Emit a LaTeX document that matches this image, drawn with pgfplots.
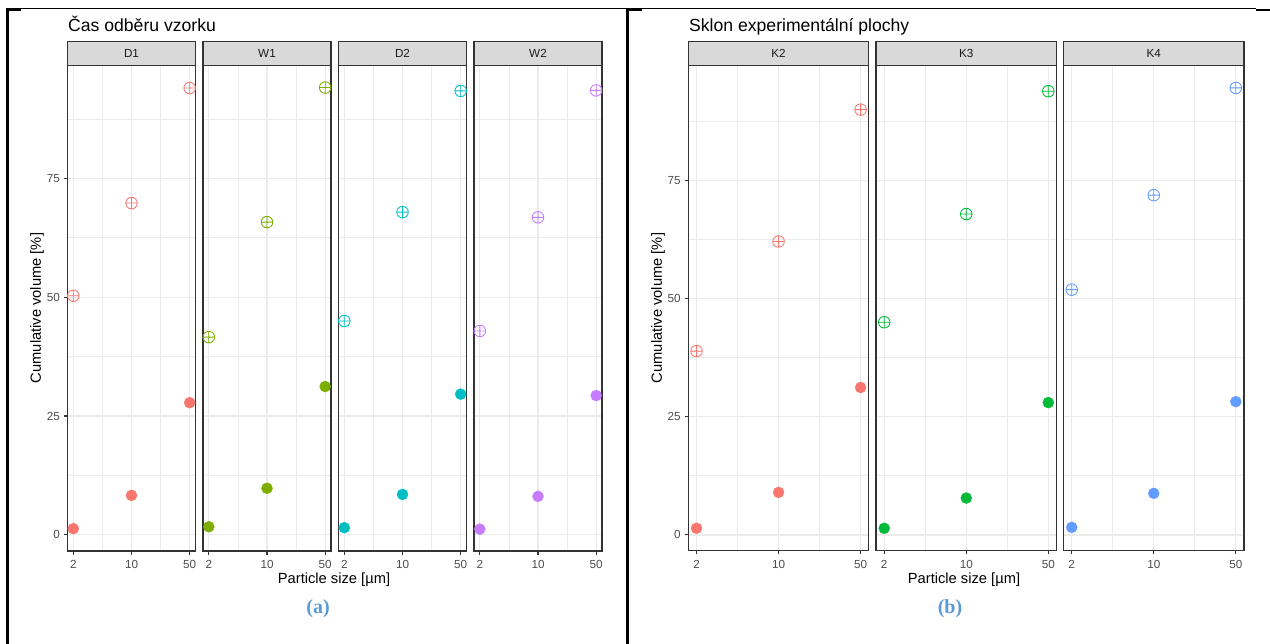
\documentclass[border=0pt]{standalone}
\usepackage{pgfplots}
\pgfplotsset{compat=1.18}
\usepackage{fontspec}
\setmainfont{Liberation Sans}
\newfontfamily\sansfnt{Liberation Sans}
\newfontfamily\capfont{Liberation Serif}
\newcommand\tickfont{\sansfnt\fontsize{11.7}{14}\selectfont}

% ggplot2 theme_bw greys
\definecolor{grey92}{HTML}{EBEBEB}
\definecolor{grey85}{HTML}{D9D9D9}
\definecolor{grey30}{HTML}{4D4D4D}
\definecolor{grey20}{HTML}{333333}
\definecolor{grey10}{HTML}{1A1A1A}
\definecolor{capblue}{HTML}{5B9BD5}
% hue palettes (4 and 3 levels)
\definecolor{hA}{HTML}{F8766D}
\definecolor{hB}{HTML}{7CAE00}
\definecolor{hC}{HTML}{00BFC4}
\definecolor{hD}{HTML}{C77CFF}
\definecolor{kB}{HTML}{00BA38}
\definecolor{kC}{HTML}{619CFF}

\pgfplotsset{
  panelbase/.style={
    scale only axis,
    xmin=1.7025, xmax=58.73,
    xtick={2,10,50}, xticklabels={2,10,50},
    minor xtick={4.4721,22.3607},
    ytick={0,25,50,75},
    minor ytick={12.5,37.5,62.5,87.5},
    grid=both,
    major grid style={grey92, line width=1.3pt},
    minor grid style={grey92, line width=0.8pt},
    axis line style={grey20, line width=1.1pt},
    tick align=outside,
    major tick length=3.7pt, minor tick length=0pt,
    tick style={grey20, line width=1.1pt},
    xtick pos=lower, ytick pos=left,
    /pgf/number format/assume math mode=true,
    tick label style={font=\tickfont, text=grey30},
    xticklabel style={yshift=-2.5pt},
    yticklabel style={xshift=-0.5pt},
    clip=false,
  },
  noylabels/.style={yticklabels={}, major y tick style={draw=none}},
}
\tikzset{
  dotmark/.style={only marks, mark=*, mark size=5.5pt, color=#1, mark options={line width=0.4pt}},
  ringmark/.style={only marks, mark=oplus, mark size=5.8pt, color=#1, mark options={line width=0.85pt}},
}

% facet strip above the panel
\newcommand\facetstrip[1]{%
  \draw[grey20, line width=1.1pt, fill=grey85] (rel axis cs:0,1) rectangle ([yshift=24pt]rel axis cs:1,1);
  \node[font=\tickfont, text=grey10] at ([yshift=12pt]rel axis cs:0.5,1) {#1};
}

\begin{document}
\begin{tikzpicture}
\path[use as bounding box] (0pt,0pt) rectangle (1270pt,-644pt);

% table cell borders
\draw[black, line width=1pt] (7pt,-8.3pt) -- (1256pt,-8.3pt);
\draw[black, line width=2pt] (7pt,-9.7pt) -- (21pt,-9.7pt);
\draw[black, line width=2pt] (628pt,-9.7pt) -- (642pt,-9.7pt);
\draw[black, line width=2pt] (1256pt,-9.7pt) -- (1270pt,-9.7pt);
\draw[black, line width=2.5pt] (7.3pt,-8pt) -- (7.3pt,-644pt);
\draw[black, line width=2.5pt] (627.5pt,-8pt) -- (627.5pt,-644pt);

% ---------------- (a) sampling time ----------------
\node[anchor=base west, inner sep=0pt, font=\sansfnt\fontsize{17.6}{20}\selectfont] at (68pt,-31.5pt) {Čas odběru vzorku};

\begin{axis}[xmode=log, panelbase, at={(67.5pt,-551pt)}, anchor=south west, width=128pt, height=485.3pt, ymin=-3.4, ymax=98.7]
  \addplot[ringmark=hA] coordinates {(2,50.3) (10,69.8) (50,94.0)};
  \addplot[dotmark=hA] coordinates {(2,1.3) (10,8.3) (50,27.8)};
  \facetstrip{D1}
\end{axis}
\begin{axis}[xmode=log, panelbase, noylabels, at={(203pt,-551pt)}, anchor=south west, width=128pt, height=485.3pt, ymin=-3.4, ymax=98.7]
  \addplot[ringmark=hB] coordinates {(2,41.6) (10,65.8) (50,94.1)};
  \addplot[dotmark=hB] coordinates {(2,1.7) (10,9.8) (50,31.2)};
  \facetstrip{W1}
\end{axis}
\begin{axis}[xmode=log, panelbase, noylabels, at={(338.5pt,-551pt)}, anchor=south west, width=128pt, height=485.3pt, ymin=-3.4, ymax=98.7]
  \addplot[ringmark=hC] coordinates {(2,45.0) (10,67.9) (50,93.4)};
  \addplot[dotmark=hC] coordinates {(2,1.5) (10,8.5) (50,29.6)};
  \facetstrip{D2}
\end{axis}
\begin{axis}[xmode=log, panelbase, noylabels, at={(474pt,-551pt)}, anchor=south west, width=128pt, height=485.3pt, ymin=-3.4, ymax=98.7]
  \addplot[ringmark=hD] coordinates {(2,42.9) (10,66.8) (50,93.5)};
  \addplot[dotmark=hD] coordinates {(2,1.2) (10,8.1) (50,29.3)};
  \facetstrip{W2}
\end{axis}

\node[rotate=90, font=\sansfnt\fontsize{14.7}{17}\selectfont] at (37pt,-308pt) {Cumulative volume [\%]};
\node[font=\sansfnt\fontsize{14.7}{17}\selectfont] at (334pt,-580pt) {Particle size [µm]};
\node[font=\capfont\bfseries\fontsize{20}{24}\selectfont, text=capblue] at (318pt,-609pt) {(a)};

% ---------------- (b) plot slope ----------------
\node[anchor=base west, inner sep=0pt, font=\sansfnt\fontsize{17.6}{20}\selectfont] at (689pt,-31.5pt) {Sklon experimentální plochy};

\begin{axis}[xmode=log, panelbase, at={(688.3pt,-550.5pt)}, anchor=south west, width=180.5pt, height=484.8pt, ymin=-3.3, ymax=99.3]
  \addplot[ringmark=hA] coordinates {(2,38.9) (10,62.1) (50,90.0)};
  \addplot[dotmark=hA] coordinates {(2,1.4) (10,9.0) (50,31.2)};
  \facetstrip{K2}
\end{axis}
\begin{axis}[xmode=log, panelbase, noylabels, at={(876pt,-550.5pt)}, anchor=south west, width=180.5pt, height=484.8pt, ymin=-3.3, ymax=99.3]
  \addplot[ringmark=kB] coordinates {(2,45.0) (10,67.9) (50,93.9)};
  \addplot[dotmark=kB] coordinates {(2,1.4) (10,7.8) (50,28.0)};
  \facetstrip{K3}
\end{axis}
\begin{axis}[xmode=log, panelbase, noylabels, at={(1063.5pt,-550.5pt)}, anchor=south west, width=180.5pt, height=484.8pt, ymin=-3.3, ymax=99.3]
  \addplot[ringmark=kC] coordinates {(2,51.9) (10,71.9) (50,94.6)};
  \addplot[dotmark=kC] coordinates {(2,1.6) (10,8.8) (50,28.2)};
  \facetstrip{K4}
\end{axis}

\node[rotate=90, font=\sansfnt\fontsize{14.7}{17}\selectfont] at (658pt,-308pt) {Cumulative volume [\%]};
\node[font=\sansfnt\fontsize{14.7}{17}\selectfont] at (964pt,-580pt) {Particle size [µm]};
\node[font=\capfont\bfseries\fontsize{20}{24}\selectfont, text=capblue] at (950pt,-609pt) {(b)};
\end{tikzpicture}
\end{document}
